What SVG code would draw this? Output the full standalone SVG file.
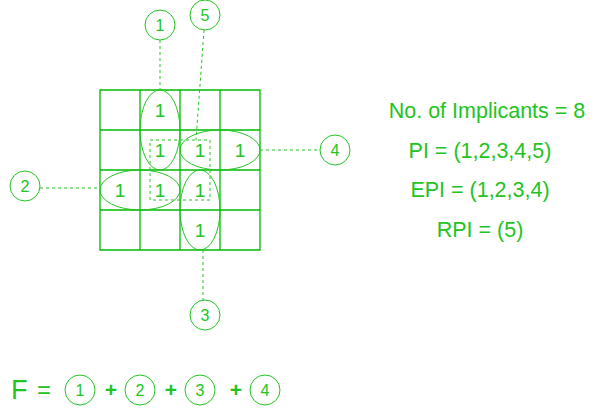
<svg xmlns="http://www.w3.org/2000/svg" width="601" height="411" viewBox="0 0 601 411">
<style>
text{font-family:"Liberation Sans",Arial,sans-serif;fill:#22c422}
.c{fill:none;stroke:#22c422;stroke-width:1}
.g{fill:none;stroke:#00bb00;stroke-width:1.3}
.d{fill:none;stroke:#22c422;stroke-width:1;stroke-dasharray:3,3}
.n{font-size:16px;text-anchor:middle}
.o{font-size:19px;text-anchor:middle}
.r{font-size:21.5px;text-anchor:middle}
.p{font-size:21px;text-anchor:middle;font-weight:bold}
</style>
<rect width="601" height="411" fill="#fff"/>
<g id="grid">
<path class="g" d="M100 90H260V250H100Z M140 90V250 M180 90V250 M220 90V250 M100 130H260 M100 170H260 M100 210H260"/>
<g class="o"><text x="160" y="117">1</text><text x="160" y="157">1</text><text x="200" y="157">1</text><text x="240" y="157">1</text><text x="120" y="197">1</text><text x="160" y="197">1</text><text x="200" y="197">1</text><text x="200" y="237">1</text></g>
</g>
<g id="groups">
<ellipse class="c" cx="160" cy="130" rx="20" ry="40"/>
<ellipse class="c" cx="220" cy="150" rx="40" ry="20"/>
<ellipse class="c" cx="140" cy="190" rx="40" ry="20"/>
<ellipse class="c" cx="200" cy="210" rx="20" ry="40"/>
<rect class="d" x="150" y="140" width="60" height="60"/>
</g>
<g id="connectors">
<path class="d" d="M160 40V90 M204 30L196 140 M260 150H320 M40 188H100 M203 250V300"/>
</g>
<g id="labels">
<circle class="c" cx="160" cy="25" r="15"/><text class="n" x="160" y="31">1</text>
<circle class="c" cx="205" cy="15" r="15"/><text class="n" x="205" y="21">5</text>
<circle class="c" cx="335" cy="150" r="15"/><text class="n" x="335" y="156">4</text>
<circle class="c" cx="25" cy="186" r="15"/><text class="n" x="25" y="192">2</text>
<circle class="c" cx="205" cy="315" r="15"/><text class="n" x="205" y="321">3</text>
</g>
<g id="info">
<text class="r" x="487" y="118">No. of Implicants = 8</text>
<text class="r" x="480" y="158">PI = (1,2,3,4,5)</text>
<text class="r" x="480" y="197">EPI = (1,2,3,4)</text>
<text class="r" x="480" y="237">RPI = (5)</text>
</g>
<g id="formula">
<text x="11" y="399" style="font-size:27px">F</text>
<text x="37" y="398" style="font-size:24px">=</text>
<circle class="c" cx="80" cy="390" r="15"/><text class="n" x="80" y="396">1</text>
<text x="111" y="397" class="p">+</text>
<circle class="c" cx="140" cy="390" r="15"/><text class="n" x="140" y="396">2</text>
<text x="171" y="397" class="p">+</text>
<circle class="c" cx="200" cy="390" r="15"/><text class="n" x="200" y="396">3</text>
<text x="236" y="397" class="p">+</text>
<circle class="c" cx="265" cy="390" r="15"/><text class="n" x="265" y="396">4</text>
</g>
</svg>
